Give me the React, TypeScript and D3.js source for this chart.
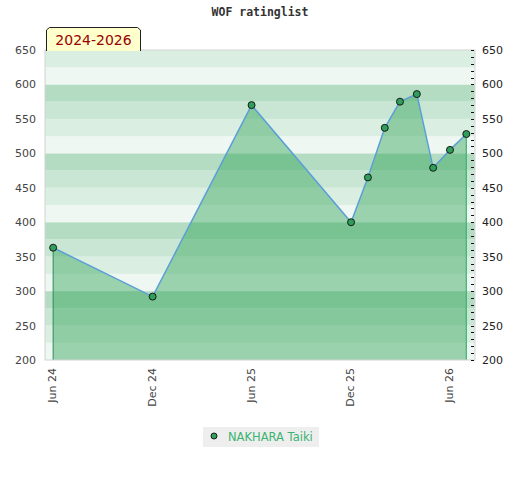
import { useEffect, useRef } from "react";
import * as d3 from "d3";

// rating periods and values
const months = [
  "2024-06", "2024-12", "2025-06", "2025-12", "2026-01", "2026-02",
  "2026-03", "2026-04", "2026-05", "2026-06", "2026-07",
];
const ratings = [363, 292, 570, 400, 465, 537, 575, 586, 479, 505, 528];

const tickMonths = ["2024-06", "2024-12", "2025-06", "2025-12", "2026-06"];
const tickLabels = ["Jun 24", "Dec 24", "Jun 25", "Dec 25", "Jun 26"];
const yTicks = [200, 250, 300, 350, 400, 450, 500, 550, 600, 650];

const playerName = "NAKHARA Taiki";
const periodLabel = "2024-2026";
const chartTitle = "WOF ratinglist";

const parseMonth = d3.timeParse("%Y-%m");

export default function App() {
  const svgRef = useRef<SVGSVGElement>(null);
  const width = 520;
  const height = 480;

  useEffect(() => {
    document.body.style.margin = "0";
    if (!svgRef.current) return;

    const svg = d3.select(svgRef.current);
    svg.selectAll("*").remove();

    const left = 45;
    const right = 475;
    const top = 50;
    const bottom = 360;
    const font = "'DejaVu Sans', sans-serif";

    const x = d3.scaleTime()
      .domain([new Date(2024, 4, 17), new Date(2026, 6, 17)])
      .range([left, right]);
    const y = d3.scaleLinear().domain([200, 650]).range([bottom, top]);

    const data = months.map((m, i) => ({ date: parseMonth(m)!, value: ratings[i] }));

    // Title
    svg.append("text")
      .attr("x", 260).attr("y", 16)
      .attr("text-anchor", "middle")
      .attr("font-family", "'DejaVu Sans Mono', monospace")
      .attr("font-weight", "bold")
      .attr("font-size", "11.5px")
      .attr("fill", "#333")
      .text(chartTitle);

    // Background bands every 25 points
    const bandColors = ["#eef7f1", "#dbeee2", "#c8e6d3", "#b3dcc3"];
    d3.range(200, 650, 25).forEach((lo, i) => {
      svg.append("rect")
        .attr("x", left).attr("width", right - left)
        .attr("y", y(lo + 25)).attr("height", y(lo) - y(lo + 25))
        .attr("fill", bandColors[i % 4]);
    });

    // Area under rating line
    const area = d3.area<{ date: Date; value: number }>()
      .x(d => x(d.date))
      .y0(bottom)
      .y1(d => y(d.value));
    svg.append("path")
      .datum(data)
      .attr("fill", "rgba(40,160,80,0.42)")
      .attr("d", area);

    // Vertical edges of area
    const first = data[0];
    const last = data[data.length - 1];
    svg.append("line")
      .attr("x1", x(first.date)).attr("x2", x(first.date))
      .attr("y1", y(first.value)).attr("y2", bottom)
      .attr("stroke", "#2e8b57").attr("stroke-width", 1);
    svg.append("line")
      .attr("x1", x(last.date)).attr("x2", x(last.date))
      .attr("y1", y(last.value)).attr("y2", bottom)
      .attr("stroke", "#3cb371").attr("stroke-width", 1.2);

    // Plot frame
    svg.append("rect")
      .attr("x", left).attr("y", top)
      .attr("width", right - left).attr("height", bottom - top)
      .attr("fill", "none")
      .attr("stroke", "#d4d4d4").attr("stroke-width", 1);

    // Line
    const line = d3.line<{ date: Date; value: number }>()
      .x(d => x(d.date))
      .y(d => y(d.value));
    svg.append("path")
      .datum(data)
      .attr("fill", "none")
      .attr("stroke", "#5b9fd6")
      .attr("stroke-width", 1.5)
      .attr("d", line);

    // Points
    svg.selectAll("circle.pt")
      .data(data)
      .enter()
      .append("circle")
      .attr("class", "pt")
      .attr("cx", d => x(d.date))
      .attr("cy", d => y(d.value))
      .attr("r", 3.5)
      .attr("fill", "#2e9e5b")
      .attr("stroke", "#1a1a1a")
      .attr("stroke-width", 1);

    // Axis labels, both sides
    yTicks.forEach(t => {
      svg.append("text")
        .attr("x", 36).attr("y", y(t) + 4)
        .attr("text-anchor", "end")
        .attr("font-family", font)
        .attr("font-size", "11px")
        .attr("fill", "#444")
        .text(t);
      svg.append("text")
        .attr("x", 482).attr("y", y(t) + 4)
        .attr("font-family", font)
        .attr("font-size", "11px")
        .attr("fill", "#222")
        .text(t);
    });

    // Right minor ticks every 10 points
    d3.range(200, 651, 10).forEach(t => {
      svg.append("line")
        .attr("x1", right - 4).attr("x2", right - 1)
        .attr("y1", Math.round(y(t)) + 0.5).attr("y2", Math.round(y(t)) + 0.5)
        .attr("stroke", "#111").attr("stroke-width", 1);
    });

    // X axis labels (rotated)
    tickMonths.forEach((m, i) => {
      const tx = x(parseMonth(m)!);
      svg.append("text")
        .attr("transform", `translate(${tx + 3},368) rotate(-90)`)
        .attr("text-anchor", "end")
        .attr("font-family", font)
        .attr("font-size", "11px")
        .attr("fill", "#444")
        .text(tickLabels[i]);
    });

    // Period label box
    svg.append("path")
      .attr("d", "M46.5,51 L46.5,30 L49.5,27.5 L137.5,27.5 L140.5,30 L140.5,51")
      .attr("fill", "#ffffcc")
      .attr("stroke", "#222")
      .attr("stroke-width", 1);
    svg.append("text")
      .attr("x", 93.5).attr("y", 45)
      .attr("text-anchor", "middle")
      .attr("font-family", font)
      .attr("font-size", "14px")
      .attr("fill", "#990000")
      .text(periodLabel);

    // Legend
    svg.append("rect")
      .attr("x", 203).attr("y", 427)
      .attr("width", 116).attr("height", 20)
      .attr("fill", "#eeeeee");
    svg.append("circle")
      .attr("cx", 214).attr("cy", 436)
      .attr("r", 3)
      .attr("fill", "#2e9e5b")
      .attr("stroke", "#1a1a1a");
    svg.append("text")
      .attr("x", 228).attr("y", 441)
      .attr("font-family", font)
      .attr("font-size", "11.5px")
      .attr("fill", "#3cb371")
      .text(playerName);
  }, []);

  return <svg ref={svgRef} width={width} height={height} style={{ display: "block" }} />;
}
